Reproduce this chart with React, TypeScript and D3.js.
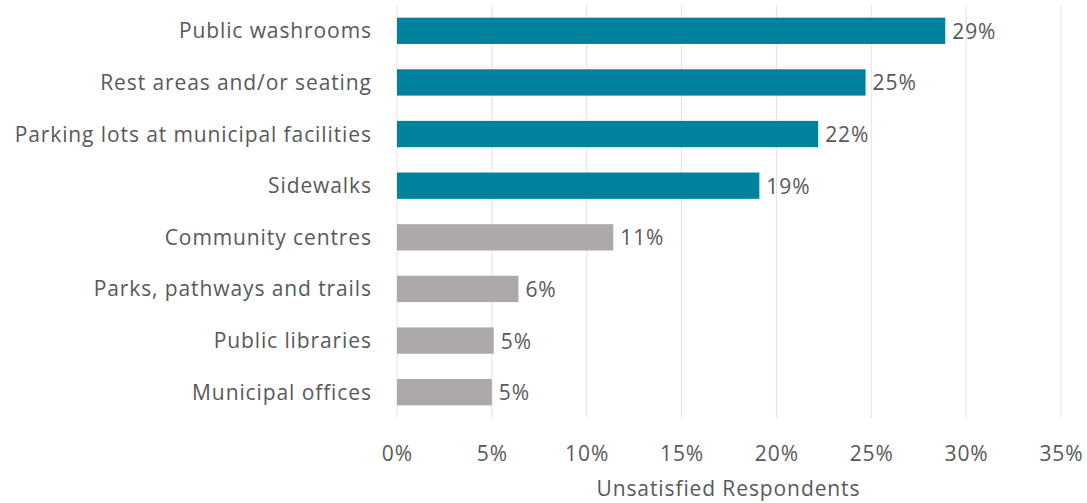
import React from "react";
import * as d3 from "d3";

const categories = [
  "Public washrooms",
  "Rest areas and/or seating",
  "Parking lots at municipal facilities",
  "Sidewalks",
  "Community centres",
  "Parks, pathways and trails",
  "Public libraries",
  "Municipal offices",
];
const values = [28.9, 24.7, 22.2, 19.1, 11.4, 6.4, 5.1, 5.0];
const labels = ["29%", "25%", "22%", "19%", "11%", "6%", "5%", "5%"];
const highlighted = [true, true, true, true, false, false, false, false];
const ticks = [0, 5, 10, 15, 20, 25, 30, 35];
const axisTitle = "Unsatisfied Respondents";

const W = 1087;
const H = 503;
const font = "'Open Sans', sans-serif";
const textColor = "#595959";
const fs = 21;
const ls = 0.9;

export default function App() {
  const x = d3.scaleLinear().domain([0, 35]).range([397, 1061]);
  const y = d3.scaleBand<string>().domain(categories).range([5, 418]).paddingInner(0.49).paddingOuter(0.245);
  return (
    <svg width={W} height={H} style={{ position: "absolute", left: 0, top: 0, background: "#fff" }}>
      {ticks.map((t) => (
        <g key={t}>
          <line x1={x(t)} x2={x(t)} y1={5} y2={418} stroke="#e3e3e3" strokeWidth={1} />
          <text x={x(t) + ls / 2} y={461} textAnchor="middle" fontFamily={font} fontSize={fs} letterSpacing={ls} fill={textColor}>
            {t}%
          </text>
        </g>
      ))}
      {categories.map((c, i) => (
        <g key={c}>
          <rect
            x={x(0)}
            y={y(c)}
            width={x(values[i]) - x(0)}
            height={y.bandwidth()}
            fill={highlighted[i] ? "#00829F" : "#ADA9A8"}
          />
          <text
            x={371 + ls}
            y={(y(c) as number) + y.bandwidth() / 2 + 7.5}
            textAnchor="end"
            fontFamily={font}
            fontSize={fs}
            letterSpacing={ls}
            fill={textColor}
          >
            {c}
          </text>
          <text
            x={x(values[i]) + 7}
            y={(y(c) as number) + y.bandwidth() / 2 + 8}
            fontFamily={font}
            fontSize={fs}
            letterSpacing={ls}
            fill={textColor}
          >
            {labels[i]}
          </text>
        </g>
      ))}
      <text x={728 + ls / 2} y={496} textAnchor="middle" fontFamily={font} fontSize={fs} letterSpacing={ls} fill={textColor}>
        {axisTitle}
      </text>
    </svg>
  );
}
